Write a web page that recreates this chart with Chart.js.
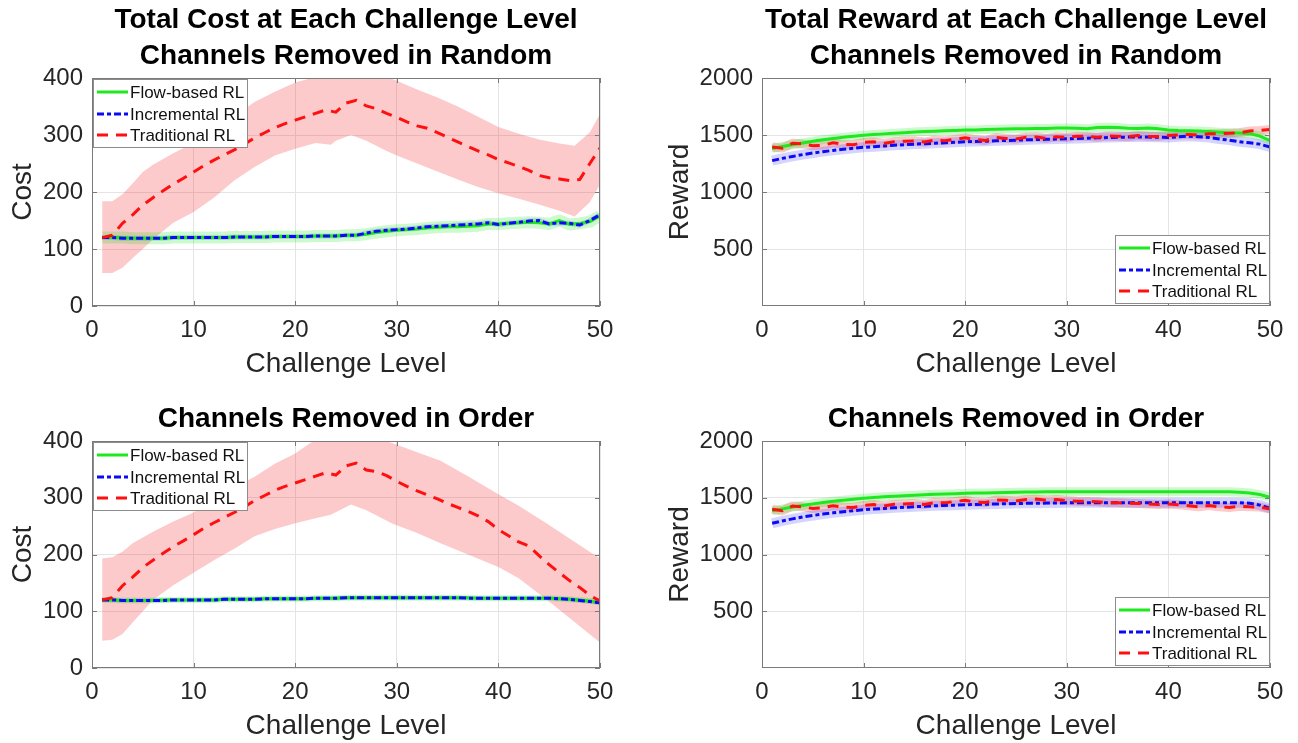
<!DOCTYPE html>
<html>
<head>
<meta charset="utf-8">
<script src="https://cdn.jsdelivr.net/npm/chart.js@4.4.1/dist/chart.umd.min.js"></script>
<style>
  html, body { margin: 0; padding: 0; background: #fff; overflow: hidden; width: 1298px; height: 743px; }
  canvas { position: absolute; }
</style>
</head>
<body>
<canvas id="costRandom" width="649" height="381" style="left:0;top:0"></canvas>
<canvas id="rewardRandom" width="649" height="381" style="left:649px;top:0"></canvas>
<canvas id="costOrder" width="649" height="380" style="left:0;top:363px"></canvas>
<canvas id="rewardOrder" width="649" height="380" style="left:649px;top:363px"></canvas>
<script>
// ---- data ---------------------------------------------------------------
const levels = [1,2,3,4,5,6,7,8,9,10,11,12,13,14,15,16,17,18,19,20,21,22,23,24,25,
                26,27,28,29,30,31,32,33,34,35,36,37,38,39,40,41,42,43,44,45,46,47,48,49,50];
const seriesNames = ['Flow-based RL', 'Incremental RL', 'Traditional RL'];
const costTicks = [0, 100, 200, 300, 400];
const rewardTicks = [500, 1000, 1500, 2000];

// Total cost, channels removed in random
const flowCostRandom = [120,120,120,119,119,119,119,120,120,120,120,120,120,121,121,121,121,122,122,122,122,123,123,123,124,
                        124,126,129,131,133,134,135,137,138,139,139,140,141,144,144,145,146,147,146,144,150,143,145,148,158];
const incCostRandom  = [120,120,119,119,119,119,119,120,120,120,120,120,120,121,121,121,121,122,122,122,122,123,123,123,124,
                        124,128,131,133,134,135,137,139,140,141,142,143,144,146,143,145,147,149,150,144,146,145,142,150,160];
const tradCostRandom = [120,124,145,160,177,190,202,214,224,235,246,256,265,274,284,295,304,313,320,326,332,338,344,340,356,
                        361,351,346,338,331,323,316,312,304,296,288,280,272,265,257,251,245,238,229,225,223,220,222,250,277];
const tradBandRandomX  = [1,2,3,4,5,6,8,10,12,14,16,18,20,22,23.5,24,25.5,27,29,30,32,34,36,38,40,42,44,46,47.5,49,50];
const tradBandRandomHi = [184,184,196,215,235,248,268,286,304,333,358,376,392,402,408,410,412,410,402,395,380,366,350,332,314,302,292,285,281,305,337];
const tradBandRandomLo = [58,58,67,84,100,117,146,165,190,220,244,264,276,286,283,290,300,290,272,264,250,236,222,209,198,188,178,167,157,182,213];

// Total reward, channels removed in random
const flowRewardRandom = [1382,1400,1415,1430,1445,1458,1470,1480,1490,1498,1504,1510,1515,1520,1526,1530,1534,1537,1540,1543,1545,1548,1550,1552,1555,
                          1556,1557,1558,1562,1562,1560,1556,1565,1568,1565,1560,1558,1562,1555,1545,1540,1538,1535,1530,1525,1520,1518,1512,1490,1450];
const incRewardRandom  = [1275,1295,1312,1328,1342,1354,1365,1375,1384,1392,1398,1404,1410,1415,1420,1424,1428,1432,1436,1440,1443,1446,1449,1452,1455,
                          1458,1460,1462,1465,1467,1469,1472,1475,1478,1480,1482,1483,1482,1480,1478,1485,1490,1485,1478,1465,1455,1440,1432,1420,1395];
const tradRewardRandom = [1395,1385,1428,1422,1405,1410,1432,1418,1415,1435,1440,1425,1440,1445,1448,1438,1455,1450,1462,1475,1460,1452,1478,1470,1465,
                          1480,1482,1470,1485,1478,1490,1488,1480,1492,1490,1485,1495,1490,1488,1495,1500,1505,1500,1510,1512,1515,1520,1535,1540,1548];

// Total cost, channels removed in order
const flowCostOrder = [120,120,119,119,119,119,120,120,120,120,120,120,121,121,121,121,122,122,122,122,122,123,123,123,124,
                       124,124,124,124,124,124,124,124,124,124,124,124,123,123,123,123,123,123,123,123,122,121,120,118,116];
const incCostOrder  = [120,120,119,119,119,119,119,120,120,120,120,120,121,121,121,121,122,122,122,122,122,123,123,123,124,
                       124,124,124,124,124,124,124,124,124,124,124,123,123,123,123,123,123,123,123,123,122,121,119,117,115];
const tradCostOrder = [120,124,145,160,177,190,202,214,224,235,246,256,265,274,284,295,304,313,320,326,332,338,344,340,356,
                       361,349,346,339,329,320,312,305,298,290,283,276,268,258,244,233,222,215,198,182,168,154,142,128,118];
const tradBandOrderX  = [1,2,3,4,6,8,10,12,14,16,18,20,21.6,23.5,25.5,27,29.6,32,34.3,37,40,42,44.8,47,50];
const tradBandOrderHi = [193,195,205,220,240,258,274,295,318,337,360,378,398,410,415,412,396,380,365,338,306,286,254,228,193];
const tradBandOrderLo = [48,50,60,80,120,146,168,190,210,232,245,255,262,270,288,278,254,238,220,200,178,158,120,88,45];

// Total reward, channels removed in order
const flowRewardOrder = [1385,1402,1418,1432,1446,1458,1469,1478,1487,1495,1502,1508,1513,1518,1522,1526,1530,1533,1536,1539,1541,1543,1545,1547,1549,
                         1550,1551,1552,1553,1553,1554,1554,1554,1554,1554,1554,1554,1554,1554,1554,1554,1554,1554,1554,1554,1553,1548,1542,1528,1505];
const incRewardOrder  = [1275,1296,1314,1330,1344,1356,1367,1377,1386,1394,1400,1406,1411,1416,1421,1425,1429,1432,1435,1438,1441,1443,1445,1447,1449,
                         1451,1452,1453,1454,1455,1456,1456,1457,1457,1457,1457,1457,1457,1457,1457,1457,1457,1457,1457,1457,1457,1456,1452,1435,1408];
const tradRewardOrder = [1398,1385,1428,1420,1405,1412,1430,1418,1415,1432,1440,1428,1442,1446,1450,1440,1458,1455,1468,1478,1462,1458,1480,1478,1472,
                         1485,1488,1478,1484,1475,1470,1468,1465,1458,1455,1452,1450,1445,1440,1445,1438,1430,1420,1432,1420,1415,1425,1420,1418,1400];

// ---- styling ------------------------------------------------------------
const GREEN = '#1ee81e', BLUE = '#0a0af5', RED = '#ff1010';
const GREEN_BAND = 'rgba(0,230,0,0.20)', BLUE_BAND = 'rgba(40,40,255,0.20)', RED_BAND = 'rgba(245,60,60,0.27)';
const FONT = '"Liberation Sans", Arial, Helvetica, sans-serif';
Chart.defaults.font.family = FONT;
Chart.defaults.color = '#262626';

const pts = (xs, ys) => xs.map((x, i) => ({ x, y: ys[i] }));

// Frame around the plot area with inward tick marks on all four sides.
const framePlugin = {
  id: 'frame',
  afterDatasetsDraw(chart) {
    const { ctx, chartArea: a, scales } = chart;
    ctx.save();
    ctx.strokeStyle = '#7a7a7a';
    ctx.lineWidth = 1;
    ctx.strokeRect(Math.round(a.left) + 0.5, Math.round(a.top) + 0.5,
                   Math.round(a.width) - 1, Math.round(a.height) - 1);
    ctx.beginPath();
    scales.x.ticks.forEach(t => {
      const px = Math.round(scales.x.getPixelForValue(t.value)) + 0.5;
      ctx.moveTo(px, a.bottom); ctx.lineTo(px, a.bottom - 5);
      ctx.moveTo(px, a.top); ctx.lineTo(px, a.top + 5);
    });
    scales.y.ticks.forEach(t => {
      const py = Math.round(scales.y.getPixelForValue(t.value)) + 0.5;
      ctx.moveTo(a.left, py); ctx.lineTo(a.left + 5, py);
      ctx.moveTo(a.right, py); ctx.lineTo(a.right - 5, py);
    });
    ctx.stroke();
    ctx.restore();
  }
};

// Boxed legend drawn inside the plot area.
const boxLegendPlugin = {
  id: 'boxLegend',
  afterDraw(chart, args, opts) {
    const { ctx, chartArea: a } = chart;
    const items = chart.data.datasets.filter(d => d.inLegend);
    const w = 154, h = 68;
    let x0, y0;
    if (opts.corner === 'topleft') { x0 = a.left + 1; y0 = a.top + 1; }
    else { x0 = a.right - w - 1; y0 = a.bottom - h - 3; }
    ctx.save();
    ctx.fillStyle = '#fff';
    ctx.fillRect(x0, y0, w, h);
    ctx.strokeStyle = '#8c8c8c';
    ctx.lineWidth = 1;
    ctx.strokeRect(Math.round(x0) + 0.5, Math.round(y0) + 0.5, w, h);
    ctx.font = '17px ' + FONT;
    ctx.textBaseline = 'middle';
    items.forEach((d, i) => {
      const y = Math.round(y0 + 13 + i * 21.5);
      ctx.beginPath();
      ctx.setLineDash(d.borderDash || []);
      ctx.strokeStyle = d.borderColor;
      ctx.lineWidth = d.borderWidth;
      ctx.moveTo(x0 + 4, y);
      ctx.lineTo(x0 + 35, y);
      ctx.stroke();
      ctx.setLineDash([]);
      ctx.fillStyle = '#111';
      ctx.fillText(d.label, x0 + 37, y + 1);
    });
    ctx.restore();
  }
};

function meanLine(label, ys, color, dash, order) {
  return {
    label, inLegend: true, data: pts(levels, ys), borderColor: color, borderWidth: 3,
    borderDash: dash, pointRadius: 0, fill: false, tension: 0, order
  };
}
function halo(ys, color, width, order) {
  return {
    label: '', data: pts(levels, ys), borderColor: color, borderWidth: width,
    pointRadius: 0, fill: false, tension: 0, order, borderJoinStyle: 'round'
  };
}

function makePanel(p) {
  const datasets = [
    meanLine(seriesNames[0], p.flow, GREEN, [], 2),
    meanLine(seriesNames[1], p.inc, BLUE, [7, 3, 4, 3], 1),
    meanLine(seriesNames[2], p.trad, RED, [11, 8], 0),
    halo(p.flow, GREEN_BAND, p.haloFlow, 4),
    halo(p.inc, BLUE_BAND, p.haloInc, 5)
  ];
  if (p.bandX) {
    datasets.push({ label: '', data: pts(p.bandX, p.bandLo), borderWidth: 0, pointRadius: 0, fill: false, order: 8 });
    datasets.push({ label: '', data: pts(p.bandX, p.bandHi), borderWidth: 0, pointRadius: 0,
                    fill: '-1', backgroundColor: RED_BAND, order: 9 });
  } else {
    datasets.push(halo(p.trad, RED_BAND, p.haloTrad, 6));
  }
  const yTicks = p.yTicks;
  new Chart(document.getElementById(p.id), {
    type: 'line',
    data: { datasets },
    plugins: [framePlugin, boxLegendPlugin],
    options: {
      responsive: false,
      devicePixelRatio: 1,
      animation: false,
      events: [],
      layout: { padding: { left: 0, right: p.padRight, top: 0, bottom: 0 } },
      plugins: {
        legend: { display: false },
        tooltip: { enabled: false },
        boxLegend: { corner: p.legendCorner },
        title: {
          display: true, text: p.title, fullSize: false, color: '#000',
          font: { size: 28, weight: 'bold', lineHeight: 1.286 },
          padding: { top: p.titleTop, bottom: 4 }
        }
      },
      scales: {
        x: {
          type: 'linear', min: 0, max: 50,
          ticks: { stepSize: 10, maxRotation: 0, autoSkip: false, padding: 10, font: { size: 24 }, color: '#262626',
                   callback: v => String(v) },
          grid: { color: '#e4e4e4', drawTicks: false },
          border: { display: false },
          title: { display: true, text: 'Challenge Level', font: { size: 28 }, padding: { top: 0, bottom: 0 }, color: '#262626' },
          afterFit(s) { s.height = p.xHeight; }
        },
        y: {
          type: 'linear', min: 0, max: p.yMax,
          afterBuildTicks(s) { s.ticks = yTicks.map(v => ({ value: v })); },
          ticks: { padding: 9, font: { size: 24 }, color: '#262626', callback: v => String(v) },
          grid: { color: '#e4e4e4', drawTicks: false },
          border: { display: false },
          title: { display: true, text: p.yTitle, font: { size: 28 }, padding: { top: p.yTitlePad, bottom: 0 }, color: '#262626' },
          afterFit(s) { s.width = p.yWidth; }
        }
      }
    }
  });
}

makePanel({
  id: 'costRandom', title: ['Total Cost at Each Challenge Level', 'Channels Removed in Random'], titleTop: 2,
  yTitle: 'Cost', yMax: 400, yTicks: costTicks, yWidth: 92, yTitlePad: 6, padRight: 49, xHeight: 75,
  legendCorner: 'topleft',
  flow: flowCostRandom, inc: incCostRandom, trad: tradCostRandom,
  bandX: tradBandRandomX, bandLo: tradBandRandomLo, bandHi: tradBandRandomHi,
  haloFlow: 12, haloInc: 5
});
makePanel({
  id: 'rewardRandom', title: ['Total Reward at Each Challenge Level', 'Channels Removed in Random'], titleTop: 2,
  yTitle: 'Reward', yMax: 2000, yTicks: rewardTicks, yWidth: 113, yTitlePad: 14, padRight: 28, xHeight: 75,
  legendCorner: 'bottomright',
  flow: flowRewardRandom, inc: incRewardRandom, trad: tradRewardRandom,
  haloFlow: 9, haloInc: 10, haloTrad: 9
});
makePanel({
  id: 'costOrder', title: 'Channels Removed in Order', titleTop: 38,
  yTitle: 'Cost', yMax: 400, yTicks: costTicks, yWidth: 92, yTitlePad: 6, padRight: 49, xHeight: 75,
  legendCorner: 'topleft',
  flow: flowCostOrder, inc: incCostOrder, trad: tradCostOrder,
  bandX: tradBandOrderX, bandLo: tradBandOrderLo, bandHi: tradBandOrderHi,
  haloFlow: 6, haloInc: 4
});
makePanel({
  id: 'rewardOrder', title: 'Channels Removed in Order', titleTop: 38,
  yTitle: 'Reward', yMax: 2000, yTicks: rewardTicks, yWidth: 113, yTitlePad: 14, padRight: 28, xHeight: 75,
  legendCorner: 'bottomright',
  flow: flowRewardOrder, inc: incRewardOrder, trad: tradRewardOrder,
  haloFlow: 9, haloInc: 10, haloTrad: 9
});
</script>
</body>
</html>
